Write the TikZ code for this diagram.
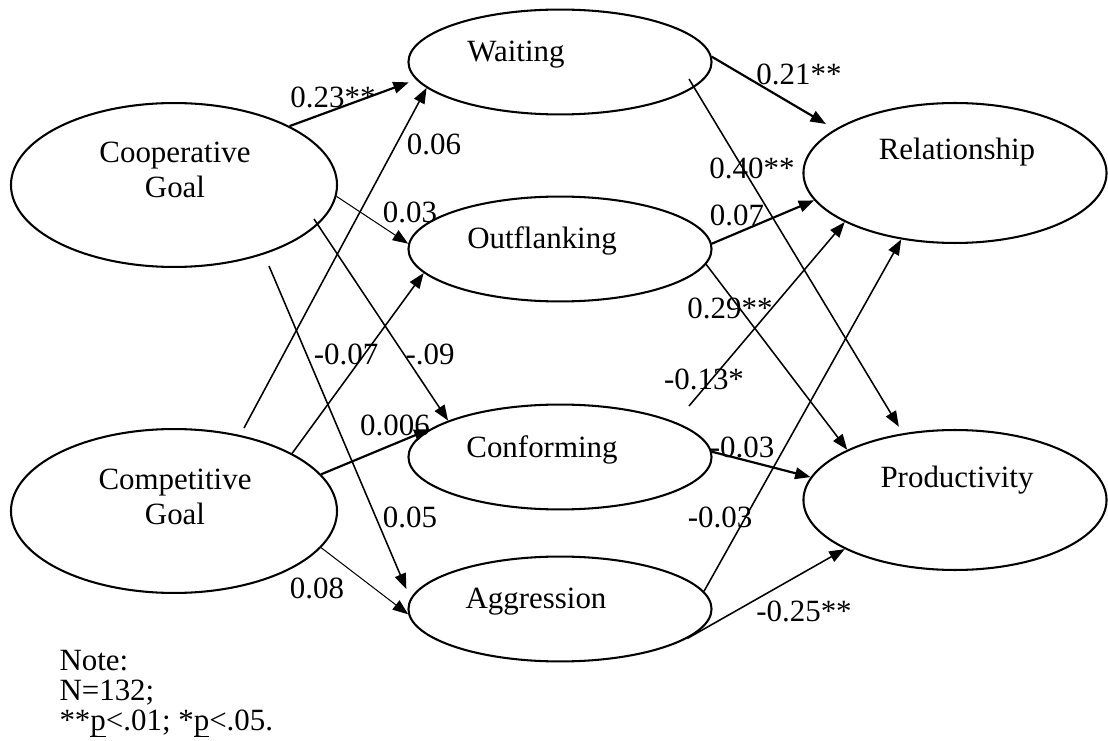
\documentclass[tikz,border=0pt]{standalone}
\usepackage{fontspec}
\setmainfont{Liberation Serif}
\usetikzlibrary{shapes.geometric,arrows.meta}

\newcommand{\ulp}{\setbox0\hbox{p}\rlap{\rule[-2.6pt]{\wd0}{0.55pt}}p}

\begin{document}
\begin{tikzpicture}[x=0.388pt,y=0.388pt,
  font=\fontsize{12}{13.6}\selectfont,
  latent/.style={draw=black, ellipse, line width=0.8pt},
  goal/.style={latent, minimum width=126.5pt, minimum height=63.6pt},
  tactic/.style={latent, minimum width=117.6pt, minimum height=40.7pt},
  outcome/.style={latent, minimum width=117.6pt, minimum height=54.3pt},
  link/.style={-{Triangle[length=6pt,width=4.5pt]}, line width=0.6pt},
  heavy/.style={link, line width=0.85pt},
  light/.style={link, line width=0.4pt}]
\tikzstyle{every node}+=[inner sep=0pt]
\useasboundingbox (0,0) rectangle (1108,740);
% goals
\node [goal] (coop) at (174,555) {};
\node [align=center] (coopT) at (175,570) {Cooperative\\Goal};
\node [goal] (comp) at (174,229) {};
\node [align=center] (compT) at (175,243) {Competitive\\Goal};
% tactics
\node [tactic] (wait) at (560,678) {};
\node [anchor=base] (waitT) at (516,678) {Waiting};
\node [tactic] (outf) at (560,491) {};
\node [anchor=base] (outfT) at (542,492) {Outflanking};
\node [tactic] (conf) at (560,283) {};
\node [anchor=base] (confT) at (542,283) {Conforming};
\node [tactic] (aggr) at (560,131) {};
\node [anchor=base] (aggrT) at (536,132) {Aggression};
% outcomes
\node [outcome] (rel) at (955,567) {};
\node [anchor=base] (relT) at (957,580) {Relationship};
\node [outcome] (prod) at (955,240) {};
\node [anchor=base] (prodT) at (957,253) {Productivity};
% loose line ends
\coordinate (c3) at (314,521);
\coordinate (c4) at (269,474);
\coordinate (c5) at (244,312);
\coordinate (c10) at (689,661);
\coordinate (c13) at (689,334);
% goals -> tactics
\draw [black, heavy, shorten >=3pt] (coop.27) -- (wait.187);
\draw [black, light] (coop.-4) -- (outf.178);
\draw [black, link] (c3) -- (conf.162);
\draw [black, link, shorten >=4pt] (c4) -- (aggr.176);
\draw [black, link] (c5) -- (wait.191);
\draw [black, link] (comp.26) -- (outf.190);
\draw [black, heavy] (comp.14) -- (conf.168);
\draw [black, light] (comp.-14) -- (aggr.182);
% tactics -> outcomes
\draw [black, heavy, shorten >=4pt] (wait.2) -- (rel.160);
\draw [black, link, shorten >=3pt] (c10) -- (prod.128);
\draw [black, heavy] (outf.2) -- (rel.191);
\draw [black, link] (outf.-6) -- (prod.155);
\draw [black, link] (c13) -- (rel.204);
\draw [black, heavy] (conf.2) -- (prod.171);
\draw [black, link] (aggr.7) -- (rel.231);
\draw [black, link] (aggr.-13) -- (prod.204);
% coefficients
\node (k1) at (333,643) {0.23**};
\node (k2) at (410,528) {0.03};
\node (k3) at (430,386) {-.09};
\node (k4) at (410,223) {0.05};
\node (k5) at (434,596) {0.06};
\node (k6) at (346,386) {-0.07};
\node (k7) at (395,315) {0.006};
\node (k8) at (317,152) {0.08};
\node (k9) at (799,666) {0.21**};
\node (k10) at (752,572) {0.40**};
\node (k11) at (737,525) {0.07};
\node (k12) at (730,432) {0.29**};
\node (k13) at (704,361) {-0.13*};
\node (k14) at (742,293) {-0.03};
\node (k15) at (720,223) {-0.03};
\node (k16) at (804,129) {-0.25**};
% note
\node [anchor=north west, align=left, font=\fontsize{12}{11.6}\selectfont] (note) at (59,90)
  {Note:\\N=132;\\**\ulp<.01; *\ulp<.05.};
\end{tikzpicture}
\end{document}
